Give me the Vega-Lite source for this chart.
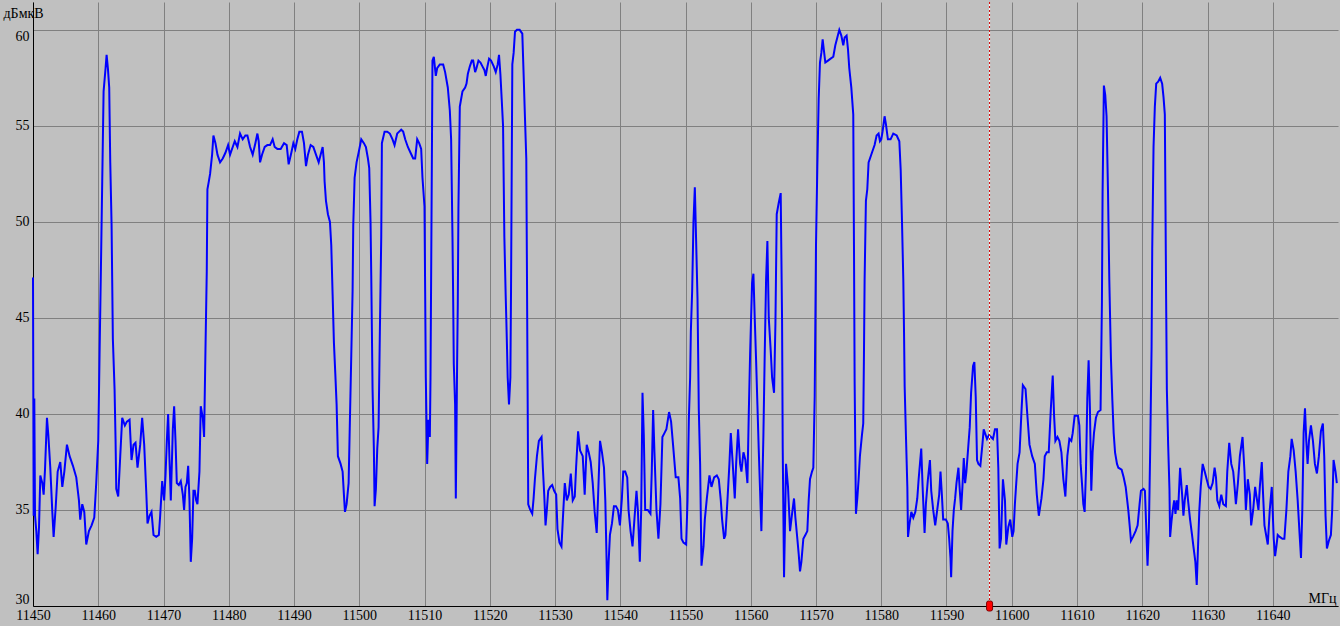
{
"$schema": "https://vega.github.io/schema/vega-lite/v6.json",
"autosize": {"type": "none"},
"width": 1305,
"height": 604,
"padding": {"left": 33, "top": 2, "right": 2, "bottom": 20},
"background": "#C0C0C0",
"config": {"view": {"stroke": null, "fill": "#C0C0C0"}},
"datasets": {
"spectrum": [
{"f":11450.00,"v":47.1},{"f":11450.10,"v":34.7},{"f":11450.20,"v":40.8},{"f":11450.31,"v":34.7},{"f":11450.51,"v":33.9},{"f":11450.71,"v":32.7},{"f":11450.92,"v":34.1},{"f":11451.12,"v":36.8},{"f":11451.43,"v":36.4},{"f":11451.63,"v":35.8},{"f":11451.84,"v":37.1},{"f":11452.14,"v":39.8},{"f":11452.35,"v":38.9},{"f":11452.65,"v":37.2},{"f":11452.96,"v":34.9},{"f":11453.16,"v":33.6},{"f":11453.47,"v":35.1},{"f":11453.78,"v":37.0},{"f":11454.18,"v":37.5},{"f":11454.49,"v":36.2},{"f":11454.80,"v":37.0},{"f":11455.20,"v":38.4},{"f":11455.61,"v":37.8},{"f":11456.12,"v":37.3},{"f":11456.63,"v":36.7},{"f":11457.04,"v":35.5},{"f":11457.24,"v":34.5},{"f":11457.55,"v":35.3},{"f":11457.86,"v":34.9},{"f":11458.16,"v":33.2},{"f":11458.57,"v":33.9},{"f":11458.98,"v":34.2},{"f":11459.39,"v":34.6},{"f":11459.69,"v":36.4},{"f":11460.00,"v":38.6},{"f":11460.20,"v":43.1},{"f":11460.41,"v":47.6},{"f":11460.61,"v":52.1},{"f":11460.82,"v":56.8},{"f":11461.12,"v":58.0},{"f":11461.28,"v":58.7},{"f":11461.48,"v":58.0},{"f":11461.68,"v":57.0},{"f":11461.84,"v":53.1},{"f":11462.04,"v":49.9},{"f":11462.24,"v":43.9},{"f":11462.50,"v":41.3},{"f":11462.65,"v":38.7},{"f":11462.76,"v":36.1},{"f":11463.06,"v":35.7},{"f":11463.37,"v":37.8},{"f":11463.67,"v":39.8},{"f":11464.08,"v":39.4},{"f":11464.39,"v":39.6},{"f":11464.80,"v":39.7},{"f":11465.10,"v":37.6},{"f":11465.41,"v":38.4},{"f":11465.71,"v":38.5},{"f":11466.02,"v":37.2},{"f":11466.43,"v":38.4},{"f":11466.73,"v":39.8},{"f":11467.04,"v":38.4},{"f":11467.35,"v":36.0},{"f":11467.55,"v":34.3},{"f":11467.86,"v":34.7},{"f":11468.16,"v":34.9},{"f":11468.47,"v":33.7},{"f":11468.88,"v":33.6},{"f":11469.29,"v":33.7},{"f":11469.49,"v":34.7},{"f":11469.80,"v":36.5},{"f":11470.10,"v":35.5},{"f":11470.31,"v":36.8},{"f":11470.51,"v":38.6},{"f":11470.71,"v":40.0},{"f":11470.92,"v":37.6},{"f":11471.12,"v":35.5},{"f":11471.43,"v":39.2},{"f":11471.63,"v":40.4},{"f":11471.84,"v":38.6},{"f":11472.04,"v":36.4},{"f":11472.35,"v":36.3},{"f":11472.65,"v":36.5},{"f":11472.96,"v":35.8},{"f":11473.16,"v":35.0},{"f":11473.37,"v":36.2},{"f":11473.57,"v":36.4},{"f":11473.78,"v":37.3},{"f":11473.98,"v":35.5},{"f":11474.18,"v":32.3},{"f":11474.39,"v":33.5},{"f":11474.59,"v":36.0},{"f":11474.80,"v":36.0},{"f":11475.00,"v":35.5},{"f":11475.20,"v":35.3},{"f":11475.51,"v":37.0},{"f":11475.71,"v":40.4},{"f":11476.02,"v":39.8},{"f":11476.22,"v":38.8},{"f":11476.43,"v":43.3},{"f":11476.63,"v":47.4},{"f":11476.73,"v":51.7},{"f":11476.94,"v":52.1},{"f":11477.14,"v":52.5},{"f":11477.45,"v":53.5},{"f":11477.65,"v":54.5},{"f":11477.96,"v":54.1},{"f":11478.27,"v":53.5},{"f":11478.67,"v":53.1},{"f":11479.08,"v":53.3},{"f":11479.49,"v":53.6},{"f":11479.90,"v":54.0},{"f":11480.20,"v":53.5},{"f":11480.61,"v":53.9},{"f":11480.92,"v":54.2},{"f":11481.33,"v":53.9},{"f":11481.73,"v":54.6},{"f":11482.14,"v":54.3},{"f":11482.55,"v":54.5},
{"f":11482.86,"v":54.5},{"f":11483.27,"v":53.9},{"f":11483.67,"v":53.5},{"f":11484.08,"v":54.1},{"f":11484.39,"v":54.6},{"f":11484.59,"v":54.2},{"f":11484.80,"v":53.1},{"f":11485.10,"v":53.5},{"f":11485.51,"v":53.9},{"f":11485.92,"v":54.0},{"f":11486.33,"v":54.0},{"f":11486.73,"v":54.3},{"f":11487.04,"v":53.9},{"f":11487.45,"v":53.8},{"f":11487.96,"v":53.8},{"f":11488.47,"v":54.1},{"f":11488.88,"v":54.0},{"f":11489.18,"v":53.0},{"f":11489.59,"v":53.6},{"f":11489.90,"v":54.1},{"f":11490.20,"v":53.8},{"f":11490.51,"v":54.3},{"f":11490.82,"v":54.7},{"f":11491.22,"v":54.7},{"f":11491.53,"v":54.1},{"f":11491.84,"v":52.9},{"f":11492.14,"v":53.5},{"f":11492.55,"v":54.0},{"f":11492.96,"v":53.9},{"f":11493.37,"v":53.5},{"f":11493.78,"v":53.1},{"f":11494.08,"v":53.5},{"f":11494.39,"v":53.9},{"f":11494.59,"v":53.1},{"f":11494.69,"v":52.1},{"f":11494.90,"v":51.1},{"f":11495.20,"v":50.4},{"f":11495.51,"v":50.0},{"f":11495.71,"v":48.8},{"f":11495.92,"v":46.2},{"f":11496.12,"v":43.7},{"f":11496.33,"v":42.1},{"f":11496.53,"v":40.5},{"f":11496.73,"v":37.8},{"f":11497.14,"v":37.4},{"f":11497.45,"v":37.0},{"f":11497.65,"v":35.8},{"f":11497.81,"v":34.9},{"f":11498.06,"v":35.3},{"f":11498.37,"v":36.4},{"f":11498.57,"v":39.7},{"f":11498.78,"v":43.1},{"f":11498.98,"v":46.4},{"f":11499.08,"v":49.8},{"f":11499.29,"v":52.3},{"f":11499.59,"v":53.1},{"f":11499.90,"v":53.6},{"f":11500.31,"v":54.3},{"f":11500.71,"v":54.1},{"f":11501.02,"v":53.9},{"f":11501.33,"v":53.3},{"f":11501.53,"v":52.8},{"f":11501.73,"v":50.0},{"f":11501.84,"v":47.2},{"f":11502.04,"v":41.3},{"f":11502.24,"v":38.2},{"f":11502.35,"v":35.2},{"f":11502.55,"v":36.1},{"f":11502.76,"v":38.2},{"f":11502.96,"v":39.3},{"f":11503.16,"v":44.3},{"f":11503.37,"v":49.2},{"f":11503.47,"v":54.1},{"f":11503.88,"v":54.7},{"f":11504.29,"v":54.7},{"f":11504.69,"v":54.6},{"f":11505.10,"v":54.3},{"f":11505.41,"v":54.0},{"f":11505.82,"v":54.6},{"f":11506.12,"v":54.7},{"f":11506.43,"v":54.8},{"f":11506.73,"v":54.7},{"f":11507.04,"v":54.3},{"f":11507.45,"v":53.9},{"f":11507.86,"v":53.6},{"f":11508.27,"v":53.3},{"f":11508.57,"v":53.3},{"f":11508.88,"v":54.3},{"f":11509.18,"v":54.1},{"f":11509.49,"v":53.8},{"f":11509.69,"v":52.3},{"f":11510.00,"v":50.8},{"f":11510.10,"v":46.4},{"f":11510.20,"v":41.9},{"f":11510.41,"v":37.4},{"f":11510.61,"v":39.7},{"f":11510.82,"v":38.8},{"f":11510.92,"v":41.9},{"f":11511.12,"v":52.7},{"f":11511.22,"v":58.4},{"f":11511.43,"v":58.6},{"f":11511.73,"v":57.6},{"f":11511.94,"v":58.0},{"f":11512.35,"v":58.2},{"f":11512.86,"v":58.2},{"f":11513.16,"v":57.8},{"f":11513.57,"v":57.0},{"f":11513.88,"v":55.8},{"f":11514.08,"v":54.3},{"f":11514.29,"v":49.2},{"f":11514.39,"v":46.1},{"f":11514.49,"v":42.6},{"f":11514.69,"v":40.5},{"f":11514.80,"v":35.6},{"f":11514.90,"v":39.0},{"f":11515.00,"v":42.7},{"f":11515.10,"v":45.7},{"f":11515.20,"v":50.7},{"f":11515.41,"v":56.0},{"f":11515.82,"v":56.8},
{"f":11516.23,"v":57.0},{"f":11516.44,"v":57.2},{"f":11516.64,"v":57.7},{"f":11516.95,"v":58.1},{"f":11517.25,"v":58.4},{"f":11517.46,"v":58.4},{"f":11517.76,"v":57.8},{"f":11517.96,"v":58.0},{"f":11518.27,"v":58.4},{"f":11518.58,"v":58.3},{"f":11518.88,"v":58.1},{"f":11519.19,"v":57.9},{"f":11519.39,"v":57.6},{"f":11519.59,"v":58.0},{"f":11519.90,"v":58.5},{"f":11520.20,"v":58.4},{"f":11520.61,"v":58.1},{"f":11520.92,"v":57.8},{"f":11521.22,"v":58.2},{"f":11521.42,"v":58.7},{"f":11521.63,"v":57.7},{"f":11521.83,"v":56.4},{"f":11522.04,"v":55.0},{"f":11522.14,"v":52.1},{"f":11522.24,"v":49.2},{"f":11522.44,"v":46.2},{"f":11522.54,"v":44.9},{"f":11522.65,"v":43.4},{"f":11522.75,"v":41.9},{"f":11522.95,"v":40.5},{"f":11523.16,"v":41.9},{"f":11523.26,"v":46.4},{"f":11523.36,"v":52.3},{"f":11523.46,"v":58.2},{"f":11523.66,"v":58.8},{"f":11523.87,"v":59.9},{"f":11524.17,"v":60.0},{"f":11524.58,"v":60.0},{"f":11524.99,"v":59.8},{"f":11525.19,"v":57.7},{"f":11525.39,"v":55.5},{"f":11525.60,"v":53.3},{"f":11525.70,"v":47.5},{"f":11525.80,"v":41.3},{"f":11525.90,"v":35.3},{"f":11526.21,"v":35.0},{"f":11526.51,"v":34.8},{"f":11526.72,"v":35.6},{"f":11526.92,"v":36.6},{"f":11527.23,"v":37.8},{"f":11527.53,"v":38.6},{"f":11527.94,"v":38.8},{"f":11528.14,"v":37.2},{"f":11528.35,"v":35.8},{"f":11528.55,"v":34.2},{"f":11528.75,"v":35.0},{"f":11528.96,"v":36.0},{"f":11529.26,"v":36.2},{"f":11529.57,"v":36.3},{"f":11529.87,"v":36.0},{"f":11530.18,"v":35.8},{"f":11530.38,"v":34.0},{"f":11530.69,"v":33.3},{"f":11530.99,"v":33.1},{"f":11531.20,"v":34.5},{"f":11531.50,"v":36.4},{"f":11531.81,"v":35.5},{"f":11532.11,"v":35.8},{"f":11532.42,"v":36.9},{"f":11532.72,"v":35.5},{"f":11533.03,"v":35.7},{"f":11533.23,"v":37.2},{"f":11533.54,"v":39.1},{"f":11533.84,"v":38.1},{"f":11534.25,"v":37.8},{"f":11534.55,"v":35.8},{"f":11534.86,"v":38.4},{"f":11535.17,"v":38.0},{"f":11535.47,"v":37.5},{"f":11535.78,"v":36.4},{"f":11536.08,"v":34.9},{"f":11536.39,"v":33.8},{"f":11536.59,"v":35.6},{"f":11536.90,"v":38.6},{"f":11537.20,"v":38.0},{"f":11537.51,"v":37.2},{"f":11537.71,"v":35.5},{"f":11537.91,"v":32.3},{"f":11538.02,"v":30.3},{"f":11538.22,"v":32.3},{"f":11538.42,"v":33.7},{"f":11538.73,"v":34.3},{"f":11539.03,"v":35.2},{"f":11539.34,"v":35.2},{"f":11539.64,"v":35.0},{"f":11539.95,"v":34.2},{"f":11540.25,"v":35.6},{"f":11540.46,"v":37.0},{"f":11540.76,"v":37.0},{"f":11541.07,"v":36.7},{"f":11541.27,"v":35.0},{"f":11541.58,"v":33.9},{"f":11541.88,"v":33.1},{"f":11542.19,"v":34.6},{"f":11542.49,"v":36.0},{"f":11542.70,"v":35.0},{"f":11543.00,"v":32.3},{"f":11543.21,"v":35.0},{"f":11543.41,"v":41.1},{"f":11543.61,"v":38.9},{"f":11543.82,"v":35.0},{"f":11544.22,"v":35.0},{"f":11544.63,"v":34.8},{"f":11544.83,"v":37.0},{"f":11545.04,"v":40.2},{"f":11545.24,"v":38.0},{"f":11545.55,"v":35.0},{"f":11545.85,"v":33.5},{"f":11546.16,"v":35.3},{"f":11546.46,"v":38.8},{"f":11546.77,"v":39.0},{"f":11547.07,"v":39.2},{"f":11547.48,"v":40.1},{"f":11547.79,"v":39.6},{"f":11548.09,"v":38.4},{"f":11548.50,"v":36.7},{"f":11548.91,"v":36.7},
{"f":11549.18,"v":35.6},{"f":11549.39,"v":33.5},{"f":11549.69,"v":33.3},{"f":11550.10,"v":33.2},{"f":11550.31,"v":35.5},{"f":11550.51,"v":39.7},{"f":11550.71,"v":41.9},{"f":11550.82,"v":44.3},{"f":11551.02,"v":46.4},{"f":11551.22,"v":50.0},{"f":11551.43,"v":51.8},{"f":11551.63,"v":49.0},{"f":11551.84,"v":46.0},{"f":11551.94,"v":43.1},{"f":11552.04,"v":40.2},{"f":11552.24,"v":37.4},{"f":11552.45,"v":32.1},{"f":11552.76,"v":33.1},{"f":11552.96,"v":34.5},{"f":11553.27,"v":35.6},{"f":11553.47,"v":36.2},{"f":11553.67,"v":36.8},{"f":11553.98,"v":36.2},{"f":11554.39,"v":36.7},{"f":11554.80,"v":36.8},{"f":11555.10,"v":36.6},{"f":11555.41,"v":35.5},{"f":11555.61,"v":34.5},{"f":11555.92,"v":33.5},{"f":11556.12,"v":33.7},{"f":11556.43,"v":35.5},{"f":11556.73,"v":37.4},{"f":11556.94,"v":39.0},{"f":11557.24,"v":37.4},{"f":11557.55,"v":35.6},{"f":11557.76,"v":37.4},{"f":11558.06,"v":39.2},{"f":11558.37,"v":37.4},{"f":11558.57,"v":37.0},{"f":11558.88,"v":38.0},{"f":11559.18,"v":37.6},{"f":11559.49,"v":36.4},{"f":11559.69,"v":39.9},{"f":11559.90,"v":43.1},{"f":11560.20,"v":46.8},{"f":11560.41,"v":47.3},{"f":11560.61,"v":45.0},{"f":11560.82,"v":42.8},{"f":11561.02,"v":40.5},{"f":11561.22,"v":38.2},{"f":11561.43,"v":36.0},{"f":11561.63,"v":33.9},{"f":11561.94,"v":38.9},{"f":11562.14,"v":43.1},{"f":11562.35,"v":47.0},{"f":11562.55,"v":49.0},{"f":11562.76,"v":45.0},{"f":11563.06,"v":43.3},{"f":11563.27,"v":41.9},{"f":11563.57,"v":41.1},{"f":11563.78,"v":44.7},{"f":11563.98,"v":50.4},{"f":11564.29,"v":51.0},{"f":11564.59,"v":51.5},{"f":11564.80,"v":44.9},{"f":11564.90,"v":38.2},{"f":11565.10,"v":31.5},{"f":11565.41,"v":37.4},{"f":11565.71,"v":36.2},{"f":11566.02,"v":33.9},{"f":11566.33,"v":34.8},{"f":11566.63,"v":35.6},{"f":11566.84,"v":34.6},{"f":11567.14,"v":33.5},{"f":11567.35,"v":32.7},{"f":11567.55,"v":31.8},{"f":11567.76,"v":32.3},{"f":11568.06,"v":33.5},{"f":11568.37,"v":33.7},{"f":11568.67,"v":33.9},{"f":11568.88,"v":35.5},{"f":11569.08,"v":36.6},{"f":11569.39,"v":37.0},{"f":11569.59,"v":37.2},{"f":11569.80,"v":40.9},{"f":11570.00,"v":48.8},{"f":11570.20,"v":52.8},{"f":11570.41,"v":56.4},{"f":11570.61,"v":58.3},{"f":11570.82,"v":58.8},{"f":11571.02,"v":59.5},{"f":11571.22,"v":58.9},{"f":11571.43,"v":58.3},{"f":11571.84,"v":58.4},{"f":11572.24,"v":58.5},{"f":11572.65,"v":58.6},{"f":11572.96,"v":59.2},{"f":11573.27,"v":59.6},{"f":11573.57,"v":60.0},{"f":11573.88,"v":59.7},{"f":11574.18,"v":59.2},{"f":11574.39,"v":59.6},{"f":11574.69,"v":59.7},{"f":11574.90,"v":59.0},{"f":11575.10,"v":58.0},{"f":11575.41,"v":57.0},{"f":11575.71,"v":55.6},{"f":11575.82,"v":48.8},{"f":11575.92,"v":41.7},{"f":11576.12,"v":34.8},{"f":11576.33,"v":35.6},{"f":11576.53,"v":36.6},{"f":11576.73,"v":37.8},{"f":11577.04,"v":38.9},{"f":11577.24,"v":39.5},{"f":11577.35,"v":43.1},{"f":11577.45,"v":47.0},{"f":11577.65,"v":51.1},{"f":11577.86,"v":51.7},{"f":11578.06,"v":53.1},{"f":11578.57,"v":53.6},{"f":11578.98,"v":54.0},{"f":11579.29,"v":54.5},{"f":11579.59,"v":54.6},{"f":11579.80,"v":54.2},{"f":11580.00,"v":54.3},{"f":11580.20,"v":54.7},{"f":11580.51,"v":55.5},{"f":11580.71,"v":55.1},{"f":11581.02,"v":54.3},{"f":11581.43,"v":54.3},{"f":11581.84,"v":54.6},
{"f":11582.37,"v":54.5},{"f":11582.77,"v":54.2},{"f":11582.98,"v":52.7},{"f":11583.18,"v":50.0},{"f":11583.38,"v":47.0},{"f":11583.49,"v":44.3},{"f":11583.59,"v":41.4},{"f":11583.79,"v":38.8},{"f":11584.00,"v":36.2},{"f":11584.10,"v":33.6},{"f":11584.30,"v":34.2},{"f":11584.61,"v":34.9},{"f":11584.91,"v":34.6},{"f":11585.22,"v":34.9},{"f":11585.52,"v":35.6},{"f":11585.73,"v":36.6},{"f":11585.93,"v":37.4},{"f":11586.13,"v":38.2},{"f":11586.34,"v":36.2},{"f":11586.64,"v":33.8},{"f":11586.84,"v":35.3},{"f":11587.15,"v":36.6},{"f":11587.46,"v":37.6},{"f":11587.66,"v":36.0},{"f":11587.96,"v":35.0},{"f":11588.27,"v":34.2},{"f":11588.58,"v":35.0},{"f":11588.88,"v":35.8},{"f":11589.08,"v":37.0},{"f":11589.29,"v":35.8},{"f":11589.49,"v":34.5},{"f":11589.90,"v":34.5},{"f":11590.20,"v":34.3},{"f":11590.41,"v":33.5},{"f":11590.61,"v":32.5},{"f":11590.71,"v":31.5},{"f":11590.92,"v":33.9},{"f":11591.12,"v":35.0},{"f":11591.32,"v":35.6},{"f":11591.53,"v":36.4},{"f":11591.83,"v":37.2},{"f":11592.04,"v":36.0},{"f":11592.24,"v":35.0},{"f":11592.44,"v":36.2},{"f":11592.65,"v":37.7},{"f":11592.85,"v":36.4},{"f":11593.05,"v":37.0},{"f":11593.36,"v":38.4},{"f":11593.56,"v":39.3},{"f":11593.77,"v":41.1},{"f":11594.07,"v":42.5},{"f":11594.27,"v":42.7},{"f":11594.48,"v":40.9},{"f":11594.68,"v":37.6},{"f":11594.89,"v":37.4},{"f":11595.19,"v":37.3},{"f":11595.50,"v":38.4},{"f":11595.70,"v":39.2},{"f":11596.01,"v":38.9},{"f":11596.21,"v":38.7},{"f":11596.51,"v":38.9},{"f":11596.82,"v":38.8},{"f":11597.12,"v":38.7},{"f":11597.43,"v":39.2},{"f":11597.74,"v":39.2},{"f":11597.94,"v":37.2},{"f":11598.14,"v":33.0},{"f":11598.35,"v":33.5},{"f":11598.65,"v":36.6},{"f":11598.96,"v":35.5},{"f":11599.16,"v":33.2},{"f":11599.47,"v":34.1},{"f":11599.77,"v":34.5},{"f":11600.08,"v":33.6},{"f":11600.28,"v":33.9},{"f":11600.48,"v":35.3},{"f":11600.69,"v":36.4},{"f":11600.89,"v":37.4},{"f":11601.20,"v":38.0},{"f":11601.50,"v":40.2},{"f":11601.70,"v":41.5},{"f":11602.11,"v":41.3},{"f":11602.42,"v":39.8},{"f":11602.72,"v":38.4},{"f":11603.13,"v":37.8},{"f":11603.54,"v":37.4},{"f":11603.84,"v":35.8},{"f":11604.15,"v":34.7},{"f":11604.55,"v":35.6},{"f":11604.86,"v":36.6},{"f":11605.06,"v":37.8},{"f":11605.37,"v":38.0},{"f":11605.67,"v":38.0},{"f":11605.98,"v":40.2},{"f":11606.28,"v":42.0},{"f":11606.49,"v":39.9},{"f":11606.69,"v":38.6},{"f":11607.00,"v":38.8},{"f":11607.30,"v":38.6},{"f":11607.61,"v":38.0},{"f":11607.91,"v":36.6},{"f":11608.22,"v":35.7},{"f":11608.52,"v":37.8},{"f":11608.83,"v":38.7},{"f":11609.13,"v":38.6},{"f":11609.34,"v":39.0},{"f":11609.64,"v":39.9},{"f":11610.15,"v":39.9},{"f":11610.36,"v":39.4},{"f":11610.56,"v":37.4},{"f":11610.76,"v":36.4},{"f":11610.97,"v":35.3},{"f":11611.17,"v":34.9},{"f":11611.37,"v":37.0},{"f":11611.58,"v":40.8},{"f":11611.78,"v":42.8},{"f":11611.98,"v":40.3},{"f":11612.19,"v":36.0},{"f":11612.39,"v":38.0},{"f":11612.60,"v":39.0},{"f":11612.90,"v":39.8},{"f":11613.21,"v":40.1},{"f":11613.61,"v":40.2},{"f":11613.82,"v":45.8},{"f":11613.92,"v":51.5},{"f":11614.12,"v":57.1},{"f":11614.33,"v":56.6},{"f":11614.53,"v":55.5},{"f":11614.75,"v":51.6},{"f":11614.95,"v":47.0},{"f":11615.20,"v":42.9},
{"f":11615.42,"v":40.7},{"f":11615.62,"v":39.0},{"f":11615.83,"v":38.0},{"f":11616.13,"v":37.4},{"f":11616.34,"v":37.2},{"f":11616.84,"v":37.1},{"f":11617.15,"v":36.7},{"f":11617.46,"v":36.2},{"f":11617.66,"v":35.6},{"f":11617.86,"v":35.0},{"f":11618.07,"v":34.2},{"f":11618.27,"v":33.4},{"f":11618.58,"v":33.6},{"f":11618.98,"v":33.9},{"f":11619.29,"v":34.2},{"f":11619.59,"v":35.3},{"f":11619.80,"v":36.0},{"f":11620.20,"v":36.1},{"f":11620.41,"v":36.0},{"f":11620.61,"v":34.1},{"f":11620.81,"v":32.1},{"f":11621.02,"v":34.1},{"f":11621.22,"v":38.2},{"f":11621.43,"v":43.5},{"f":11621.53,"v":48.6},{"f":11621.73,"v":53.9},{"f":11621.93,"v":56.0},{"f":11622.14,"v":57.2},{"f":11622.44,"v":57.3},{"f":11622.75,"v":57.5},{"f":11623.05,"v":57.2},{"f":11623.26,"v":56.5},{"f":11623.46,"v":55.6},{"f":11623.56,"v":50.9},{"f":11623.66,"v":46.0},{"f":11623.77,"v":41.3},{"f":11623.97,"v":38.4},{"f":11624.17,"v":36.1},{"f":11624.27,"v":33.6},{"f":11624.48,"v":34.4},{"f":11624.68,"v":35.0},{"f":11624.89,"v":35.5},{"f":11625.09,"v":34.8},{"f":11625.29,"v":35.5},{"f":11625.50,"v":35.0},{"f":11625.80,"v":37.2},{"f":11626.11,"v":35.8},{"f":11626.31,"v":34.7},{"f":11626.51,"v":35.5},{"f":11626.82,"v":36.3},{"f":11627.02,"v":35.5},{"f":11627.33,"v":34.5},{"f":11627.63,"v":33.7},{"f":11627.84,"v":33.1},{"f":11628.14,"v":32.3},{"f":11628.35,"v":31.1},{"f":11628.55,"v":33.1},{"f":11628.75,"v":35.0},{"f":11628.96,"v":36.2},{"f":11629.26,"v":37.4},{"f":11629.57,"v":37.0},{"f":11629.87,"v":36.6},{"f":11630.18,"v":36.2},{"f":11630.48,"v":36.1},{"f":11630.79,"v":36.4},{"f":11631.09,"v":37.2},{"f":11631.30,"v":36.7},{"f":11631.50,"v":35.5},{"f":11631.81,"v":35.2},{"f":11632.11,"v":35.8},{"f":11632.42,"v":35.3},{"f":11632.82,"v":35.2},{"f":11633.03,"v":37.0},{"f":11633.33,"v":38.5},{"f":11633.64,"v":37.4},{"f":11633.94,"v":37.0},{"f":11634.15,"v":36.2},{"f":11634.35,"v":35.3},{"f":11634.66,"v":36.4},{"f":11634.96,"v":37.8},{"f":11635.37,"v":38.8},{"f":11635.67,"v":37.0},{"f":11635.88,"v":35.0},{"f":11636.18,"v":36.6},{"f":11636.49,"v":35.8},{"f":11636.69,"v":34.2},{"f":11637.00,"v":35.0},{"f":11637.30,"v":36.2},{"f":11637.51,"v":35.7},{"f":11637.81,"v":35.0},{"f":11638.02,"v":36.2},{"f":11638.32,"v":37.5},{"f":11638.52,"v":35.8},{"f":11638.73,"v":34.2},{"f":11638.93,"v":33.8},{"f":11639.24,"v":33.2},{"f":11639.54,"v":35.0},{"f":11639.85,"v":36.2},{"f":11640.15,"v":33.5},{"f":11640.36,"v":32.6},{"f":11640.56,"v":33.1},{"f":11640.76,"v":33.7},{"f":11641.07,"v":33.6},{"f":11641.48,"v":33.5},{"f":11641.78,"v":33.5},{"f":11642.09,"v":35.0},{"f":11642.39,"v":37.0},{"f":11642.70,"v":37.8},{"f":11642.90,"v":38.7},{"f":11643.21,"v":38.1},{"f":11643.51,"v":37.0},{"f":11643.82,"v":35.5},{"f":11644.12,"v":33.7},{"f":11644.33,"v":32.5},{"f":11644.53,"v":35.0},{"f":11644.73,"v":39.0},{"f":11644.94,"v":40.3},{"f":11645.14,"v":38.6},{"f":11645.34,"v":37.4},{"f":11645.55,"v":38.6},{"f":11645.85,"v":39.4},{"f":11646.16,"v":38.6},{"f":11646.46,"v":37.4},{"f":11646.77,"v":36.9},{"f":11647.07,"v":37.8},{"f":11647.38,"v":39.1},{"f":11647.68,"v":39.5},{"f":11647.89,"v":37.8},{"f":11648.09,"v":34.7},{"f":11648.30,"v":33.0},{"f":11648.60,"v":33.4},{"f":11648.91,"v":33.7},{"f":11649.11,"v":35.0},{"f":11649.32,"v":37.6},{"f":11649.62,"v":37.0},{"f":11649.82,"v":36.4}
],
"marker": [{"f": 11596.6, "v": 30}]
},
"encoding": {
"x": {"field": "f", "type": "quantitative",
  "scale": {"domain": [11450, 11650], "nice": false, "zero": false},
  "axis": {"values": [11450,11460,11470,11480,11490,11500,11510,11520,11530,11540,11550,11560,11570,11580,11590,11600,11610,11620,11630,11640],
    "format": "d", "grid": true, "gridColor": "#808080", "gridWidth": 1, "gridOpacity": 1,
    "domain": true, "domainColor": "#000000", "domainWidth": 1,
    "ticks": false, "labelPadding": 2, "labelFont": "Liberation Serif", "labelFontSize": 14, "labelColor": "#000000",
    "labelFlush": false, "labelOverlap": false,
    "title": "МГц", "titleFont": "Liberation Serif", "titleFontSize": 14, "titleFontWeight": "normal", "titleColor": "#000000",
    "titleAlign": "right", "titleBaseline": "alphabetic", "titleX": 1303, "titleY": -4}},
"y": {"field": "v", "type": "quantitative",
  "scale": {"domain": [30, 61.45], "nice": false, "zero": false},
  "axis": {"values": [30,35,40,45,50,55,60],
    "grid": true, "gridColor": "#808080", "gridWidth": 1, "gridOpacity": 1,
    "domain": true, "domainColor": "#000000", "domainWidth": 1,
    "ticks": false, "labelPadding": 4, "labelFont": "Liberation Serif", "labelFontSize": 14, "labelColor": "#000000",
    "labelBaseline": {"expr": "datum.value == 60 ? 'top' : (datum.value == 30 ? 'bottom' : 'middle')"},
    "labelFlush": false, "labelOverlap": false,
    "title": "дБмкВ", "titleFont": "Liberation Serif", "titleFontSize": 14, "titleFontWeight": "normal", "titleColor": "#000000",
    "titleAngle": 0, "titleAlign": "left", "titleBaseline": "alphabetic", "titleX": -30, "titleY": 15}}
},
"layer": [
{"data": {"name": "spectrum"}, "mark": {"type": "line", "color": "#0000ff", "strokeWidth": 2, "interpolate": "linear"}},
{"data": {"name": "marker"}, "mark": {"type": "rule", "color": "#ffffff", "strokeWidth": 1}, "encoding": {"x": {"field": "f", "type": "quantitative"}, "y": null}},
{"data": {"name": "marker"}, "mark": {"type": "rule", "color": "#d00000", "strokeWidth": 1, "strokeDash": [2, 2]}, "encoding": {"x": {"field": "f", "type": "quantitative"}, "y": null}},
{"data": {"name": "marker"}, "mark": {"type": "point", "shape": "M-0.6,-0.6 Q-0.6,-1 -0.2,-1 L0.2,-1 Q0.6,-1 0.6,-0.6 L0.6,0.6 Q0.6,1 0.2,1 L-0.2,1 Q-0.6,1 -0.6,0.6 Z", "size": 100, "filled": true, "fill": "#ff0000", "stroke": "#800000", "strokeWidth": 1, "opacity": 1}}
]
}
